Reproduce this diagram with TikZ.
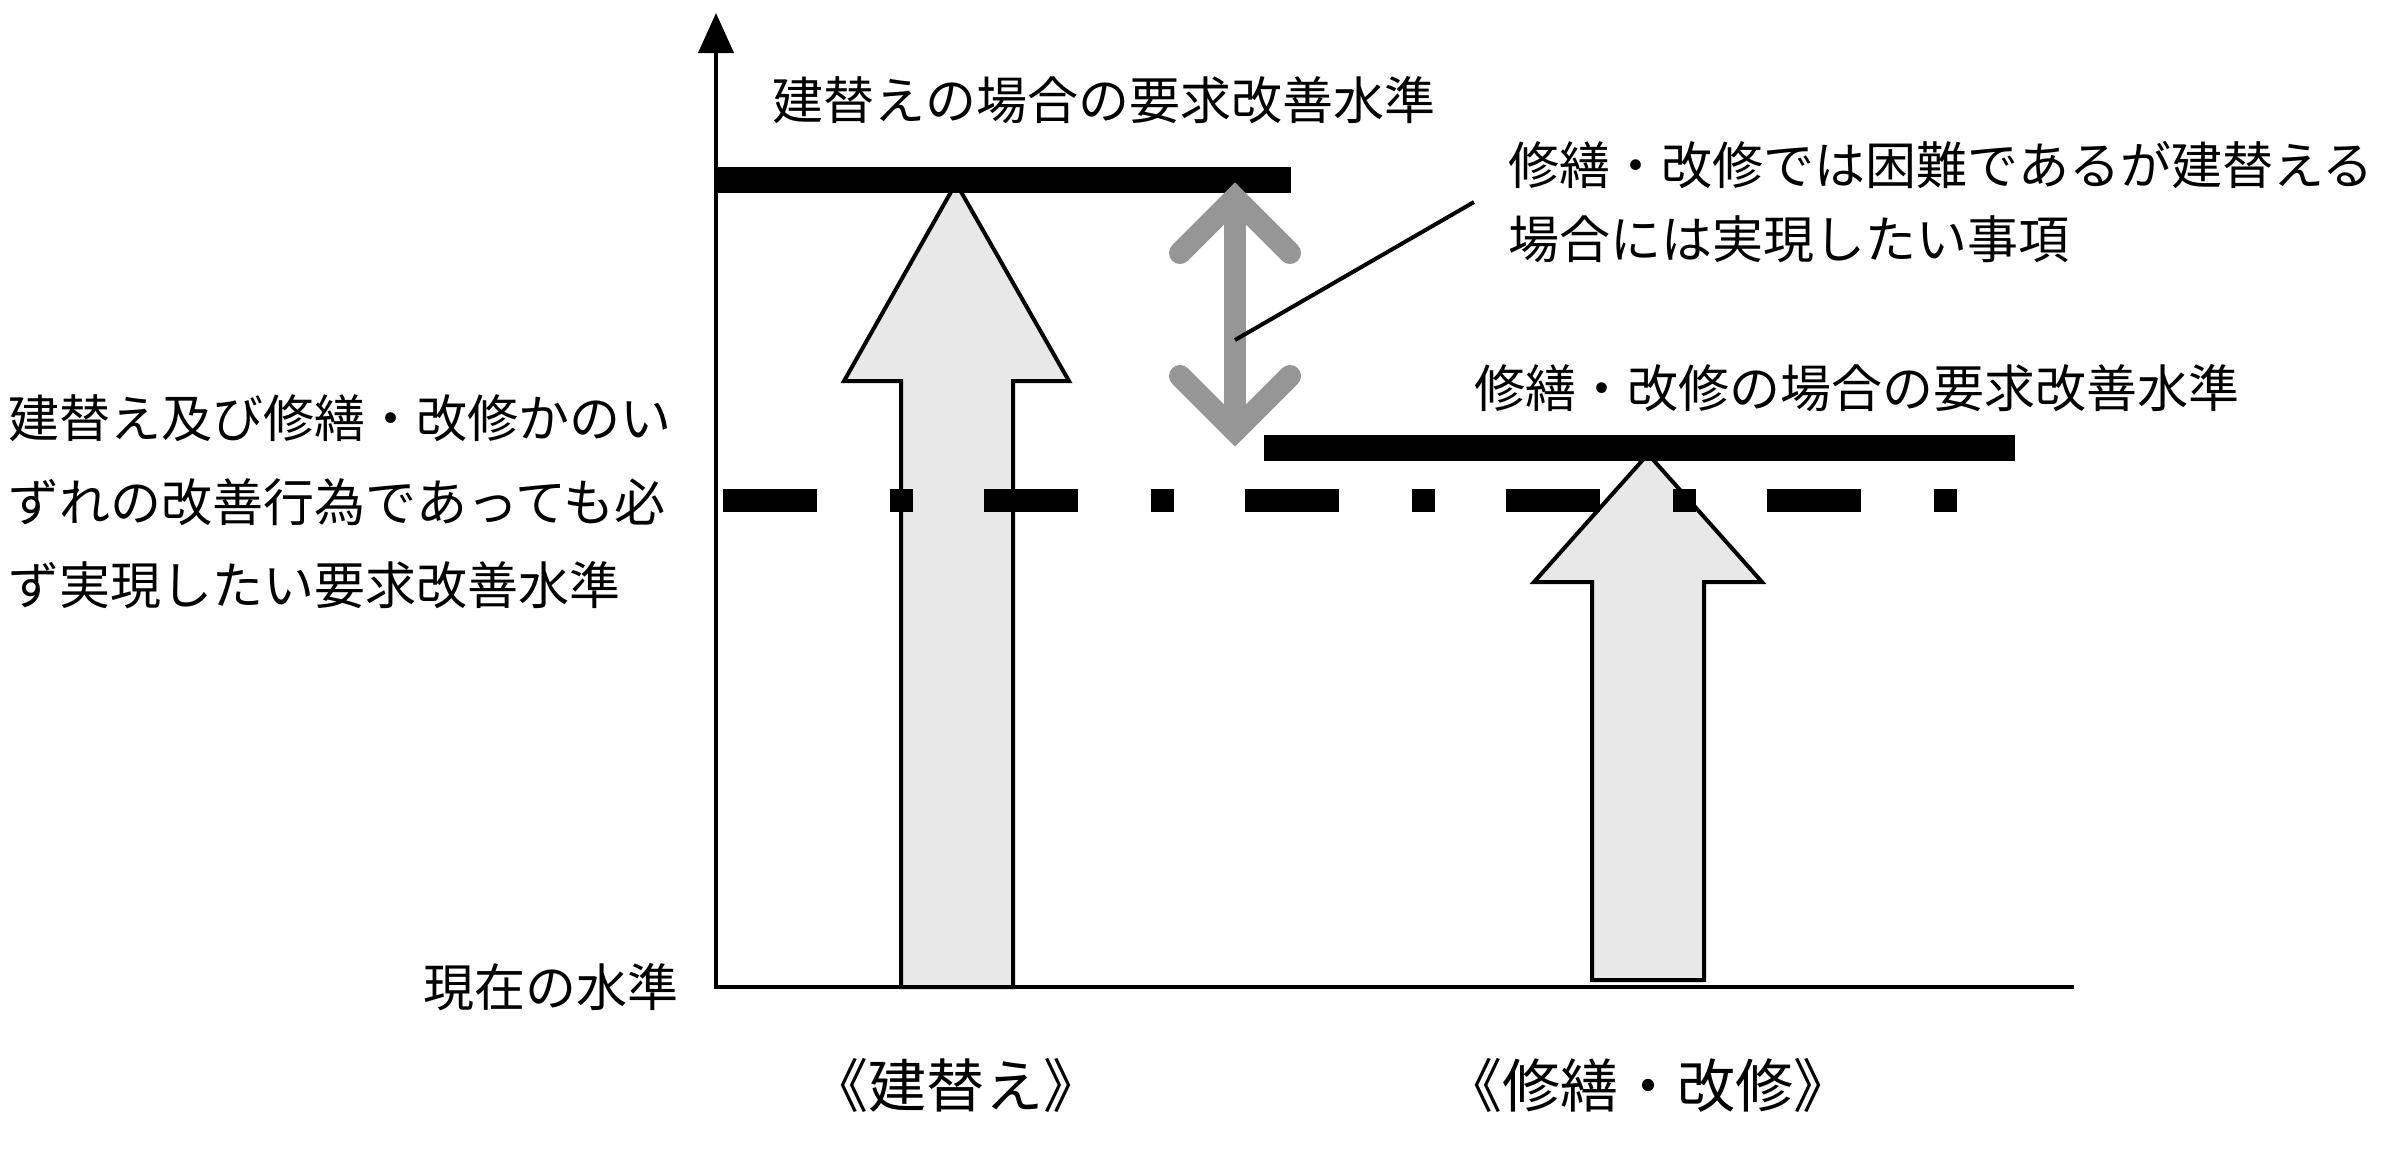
\documentclass[tikz,border=0pt]{standalone}
\usepackage{fontspec}
\setmainfont{Noto Sans CJK JP}
\usetikzlibrary{arrows.meta}
\definecolor{arrowgray}{HTML}{969696}
\tikzset{
  lvlbar/.style={line width=0.26cm},
  axisline/.style={line width=0.04cm},
  blockarrow/.style={draw=black,line width=0.04cm,fill=gray!18,line join=miter},
  gapline/.style={arrowgray,line width=0.22cm,line cap=round,line join=miter},
  lbl/.style={inner sep=0pt,font=\fontsize{14.5pt}{17pt}\selectfont},
  caselbl/.style={inner sep=0pt,font=\fontsize{16.5pt}{19pt}\selectfont},
}
\begin{document}
\begin{tikzpicture}[x=0.01cm,y=-0.01cm]
\useasboundingbox (0,0) rectangle (2388,1150);
\draw[blockarrow] (901,987) -- (901,381) -- (844,381) -- (956,183) -- (1069,381) -- (1013,381) -- (1013,987) -- cycle;
\draw[blockarrow] (1592,980) -- (1592,582) -- (1534,582) -- (1648,454) -- (1762,582) -- (1704,582) -- (1704,980) -- cycle;
\foreach \x in {0,...,4} {
  \fill (723+\x*261,488.5) rectangle ++(94,23);
  \fill (890+\x*261,488.5) rectangle ++(23,23);
}
\draw[lvlbar] (716,180) -- (1291,180);
\draw[lvlbar] (1264,448) -- (2015,448);
\draw[axisline,-{Triangle[width=0.35cm,length=0.4cm]}] (716,989) -- (716,13);
\draw[axisline] (714,987) -- (2074,987);
\coordinate (gtop) at (1235,198);
\coordinate (gbot) at (1235,431);
\draw[gapline] (gtop) -- (gbot);
\draw[gapline] (1180,253) -- (gtop) -- (1290,253);
\draw[gapline] (1180,376) -- (gbot) -- (1290,376);
\coordinate (ptr) at (1235,340);
\node[lbl,anchor=west] (rebuildlvl) at (772,100) {建替えの場合の要求改善水準};
\node[lbl,anchor=west] (repairlvl) at (1474,388) {修繕・改修の場合の要求改善水準};
\node[lbl,anchor=west,align=left,inner xsep=0.34cm,font=\fontsize{14.5pt}{21pt}\selectfont] (note) at (1474,202) {修繕・改修では困難であるが建替える\\場合には実現したい事項};
\draw[axisline] (ptr) -- (note.west);
\node[lbl,anchor=west,align=left,font=\fontsize{14.5pt}{23.7pt}\selectfont] (minlvl) at (8,502) {建替え及び修繕・改修かのい\\ずれの改善行為であっても必\\ず実現したい要求改善水準};
\node[lbl,anchor=west] (nowlvl) at (423,987) {現在の水準};
\node[caselbl] (rebuild) at (956,1085) {《建替え》};
\node[caselbl] (repair) at (1648,1085) {《修繕・改修》};
\end{tikzpicture}
\end{document}
